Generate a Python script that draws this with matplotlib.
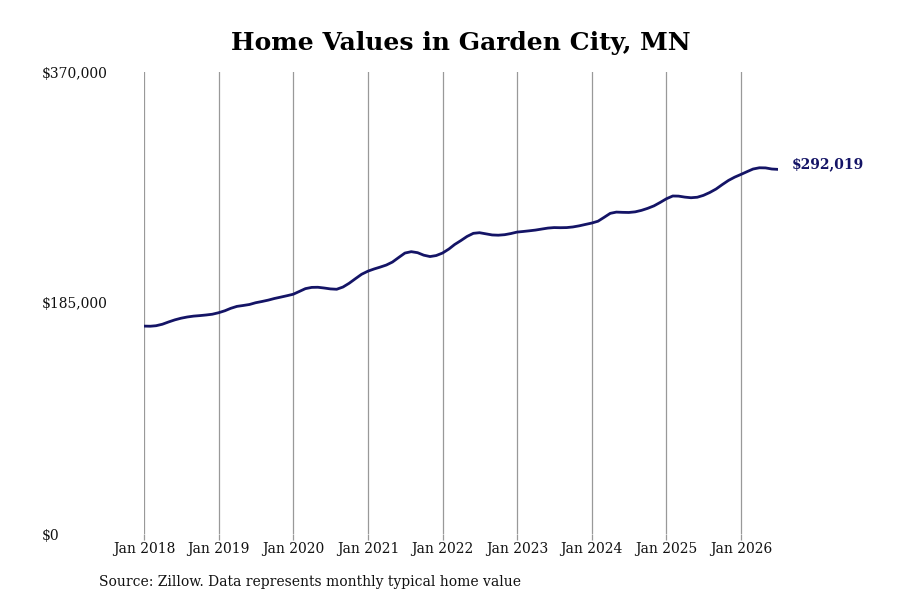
import matplotlib
matplotlib.use("Agg")
import matplotlib.pyplot as plt
import pandas as pd
import datetime as dt

title = "Home Values in Garden City, MN"
source = "Source: Zillow. Data represents monthly typical home value"
start_month = "2018-01-01"

v2018 = [166500, 166400, 166800, 168000, 169800, 171500, 172800, 173800, 174500, 174900, 175400, 176000]
v2019 = [177200, 178800, 180700, 182300, 183000, 183800, 185200, 186200, 187300, 188600, 189700, 190800]
v2020 = [192000, 194300, 196500, 197500, 197600, 197000, 196300, 196000, 197800, 200800, 204500, 208000]
v2021 = [210500, 212300, 213700, 215400, 217800, 221500, 225000, 226100, 225300, 223300, 222200, 223000]
v2022 = [225000, 228200, 231800, 235000, 238300, 240800, 241300, 240400, 239500, 239300, 239700, 240600]
v2023 = [241800, 242300, 242800, 243400, 244200, 245000, 245400, 245300, 245400, 245900, 246800, 247900]
v2024 = [249000, 250500, 253500, 256800, 257800, 257600, 257500, 258000, 259200, 260800, 262800, 265500]
v2025 = [268500, 270700, 270600, 269800, 269300, 269700, 271200, 273500, 276300, 279800, 283200, 285800]
v2026 = [288000, 290300, 292300, 293300, 293200, 292300, 292019]

values = v2018 + v2019 + v2020 + v2021 + v2022 + v2023 + v2024 + v2025 + v2026
dates = pd.date_range(start_month, periods=len(values), freq="MS")

ytick_values = [0, 185000, 370000]
ytick_labels = ["$0", "$185,000", "$370,000"]
xtick_years = list(range(2018, 2027))
xtick_labels = [f"Jan {y}" for y in xtick_years]
end_label = "$292,019"

plt.rcParams["font.family"] = ["DejaVu Serif"]

fig = plt.figure(figsize=(9, 6), dpi=100)
fig.patch.set_facecolor("white")
ax = fig.add_axes([144 / 900, 66 / 600, (778 - 144) / 900, 462 / 600])

line_color = "#141466"
ax.plot(dates, values, color=line_color, lw=2.0, solid_capstyle="round")

ax.set_xlim(dates[0], dates[-1])
ax.set_ylim(0, 370000)

xt = [dt.datetime(y, 1, 1) for y in xtick_years]
ax.set_xticks(xt)
ax.set_xticklabels(xtick_labels, fontsize=10, color="#111111")
ax.set_yticks(ytick_values)
ax.set_yticklabels(ytick_labels, fontsize=10, color="#111111", ha="left")

ax.grid(axis="x", color="#999999", lw=0.9)
ax.grid(axis="y", visible=False)
ax.set_axisbelow(True)
for s in ax.spines.values():
    s.set_visible(False)

ax.tick_params(axis="x", length=4.5, color="#999999", width=0.9, pad=1)
ax.tick_params(axis="y", length=0, pad=73.5)

ax.annotate(end_label, xy=(dates[-1], values[-1]), xytext=(10, 3.5),
            textcoords="offset points", fontsize=10, fontweight="bold",
            color=line_color, ha="left", va="center", annotation_clip=False)

fig.text(461 / 900, 1 - 43 / 600, title, fontsize=18, fontweight="bold",
         ha="center", va="center", color="black")

fig.text(99 / 900, 1 - 582 / 600, source, fontsize=10, ha="left", va="center",
         color="#111111")

fig.savefig("out.png", dpi=100, facecolor="white")
